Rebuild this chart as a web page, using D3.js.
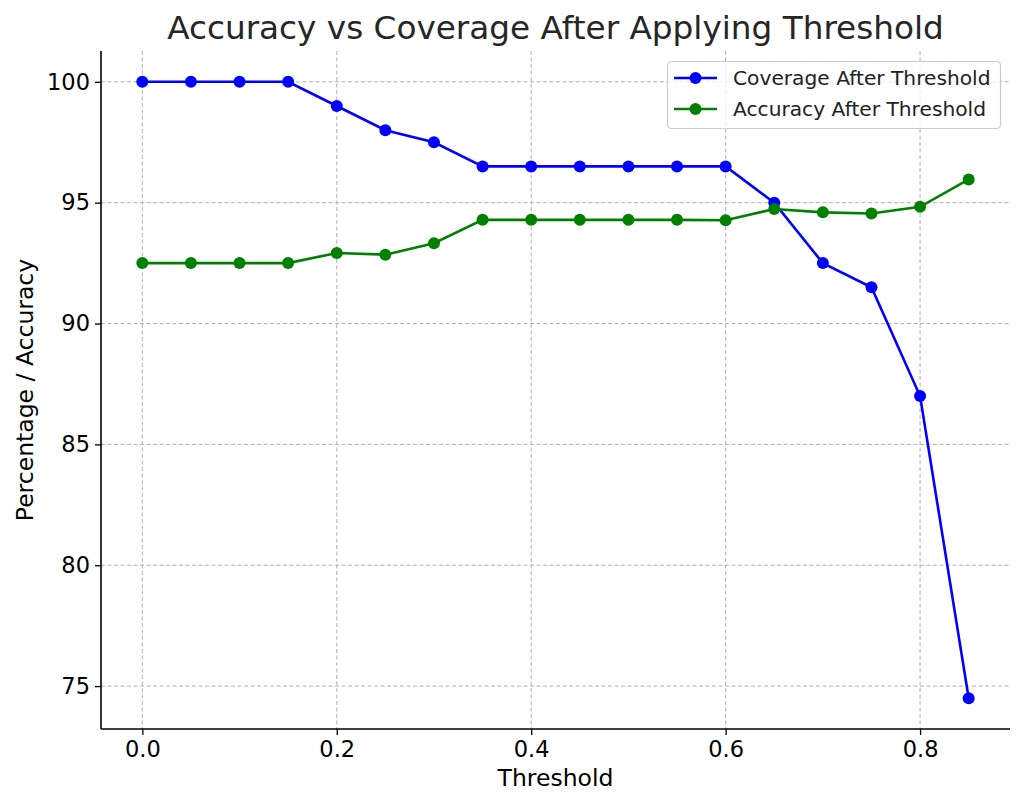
<!DOCTYPE html>
<html><head><meta charset="utf-8">
<script src="https://cdn.jsdelivr.net/npm/d3@7"></script>
<style>body{margin:0;background:#fff}svg{display:block;font-family:"DejaVu Sans",sans-serif}</style>
</head><body>
<svg id="c" width="1024" height="807"></svg>
<script>
const thresholds = [0.0,0.05,0.1,0.15,0.2,0.25,0.3,0.35,0.4,0.45,0.5,0.55,0.6,0.65,0.7,0.75,0.8,0.85];
const coverage = [100,100,100,100,99,98,97.5,96.5,96.5,96.5,96.5,96.5,96.5,95,92.5,91.5,87,74.5];
const accuracy = [92.5,92.5,92.5,92.5,92.92,92.85,93.32,94.29,94.29,94.29,94.29,94.29,94.27,94.74,94.6,94.55,94.83,95.96];
const xTicks = [0.0,0.2,0.4,0.6,0.8];
const yTicks = [75,80,85,90,95,100];
const seriesNames = ["Coverage After Threshold","Accuracy After Threshold"];
const seriesColors = ["#0000ff","#008000"];

const svg = d3.select("#c");
const L=101, R=1010, T=51, B=729;
const x = d3.scaleLinear().domain([-0.0425,0.8925]).range([L,R]);
const y = d3.scaleLinear().domain([73.225,101.275]).range([B,T]);

// grid
const g = svg.append("g");
g.selectAll(".gx").data(xTicks).join("line")
 .attr("x1",d=>x(d)).attr("x2",d=>x(d)).attr("y1",T).attr("y2",B)
 .attr("stroke","#b0b0b0").attr("stroke-width",1).attr("stroke-dasharray","4,2.5");
g.selectAll(".gy").data(yTicks).join("line")
 .attr("x1",L).attr("x2",R).attr("y1",d=>y(d)).attr("y2",d=>y(d))
 .attr("stroke","#b0b0b0").attr("stroke-width",1).attr("stroke-dasharray","4,2.5");

// axes
const xa = svg.append("g").attr("transform",`translate(0,${B})`)
 .call(d3.axisBottom(x).tickValues(xTicks).tickFormat(d3.format(".1f")).tickSize(6).tickSizeOuter(0).tickPadding(6));
const ya = svg.append("g").attr("transform",`translate(${L},0)`)
 .call(d3.axisLeft(y).tickValues(yTicks).tickFormat(d3.format("d")).tickSize(6).tickSizeOuter(0).tickPadding(5));
[xa,ya].forEach(a=>{
  a.select(".domain").attr("stroke","#000").attr("stroke-width",1.6);
  a.selectAll(".tick line").attr("stroke","#000").attr("stroke-width",1.3);
  a.selectAll(".tick text").attr("fill","#000").style("font-size","22.5px").style("font-family","DejaVu Sans");
});
xa.select(".domain").attr("d",`M${L},0H${R}`);
ya.select(".domain").attr("d",`M0,${B}V${T}`);

// lines
const data = [coverage, accuracy];
data.forEach((vals,i)=>{
  const pts = thresholds.map((t,j)=>[t,vals[j]]);
  svg.append("path").datum(pts)
    .attr("d",d3.line().x(d=>x(d[0])).y(d=>y(d[1])))
    .attr("fill","none").attr("stroke",seriesColors[i]).attr("stroke-width",2.6);
  svg.append("g").selectAll("circle").data(pts).join("circle")
    .attr("cx",d=>x(d[0])).attr("cy",d=>y(d[1])).attr("r",6).attr("fill",seriesColors[i]);
});

// title & labels
svg.append("text").attr("x",555.5).attr("y",39).attr("text-anchor","middle")
  .style("font-size","32.7px").attr("fill","#262626").text("Accuracy vs Coverage After Applying Threshold");
svg.append("text").attr("x",555.5).attr("y",786).attr("text-anchor","middle")
  .style("font-size","23.5px").attr("fill","#000").text("Threshold");
svg.append("text").attr("transform",`translate(33,${(T+B)/2}) rotate(-90)`).attr("text-anchor","middle")
  .style("font-size","23.5px").attr("fill","#000").text("Percentage / Accuracy");

// legend
const lg = svg.append("g");
lg.append("rect").attr("x",667.5).attr("y",61.5).attr("width",333).attr("height",67).attr("rx",4)
  .attr("fill","#fff").attr("fill-opacity",0.8).attr("stroke","#cccccc").attr("stroke-width",1.2);
seriesNames.forEach((n,i)=>{
  const cy = 78 + i*31;
  lg.append("line").attr("x1",674).attr("x2",717).attr("y1",cy).attr("y2",cy)
    .attr("stroke",seriesColors[i]).attr("stroke-width",2.6);
  lg.append("circle").attr("cx",695.5).attr("cy",cy).attr("r",6).attr("fill",seriesColors[i]);
  lg.append("text").attr("x",733).attr("y",cy+7).style("font-size","20.2px").attr("fill","#222").text(n);
});
</script>
</body></html>
